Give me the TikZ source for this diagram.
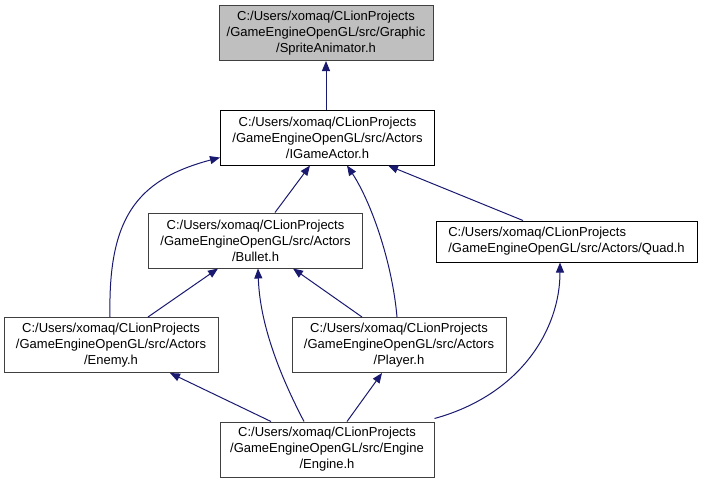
\documentclass[tikz,border=0pt]{standalone}
\usepackage{fontspec}
\setmainfont{Liberation Sans}
\usetikzlibrary{arrows.meta,calc}
\definecolor{edgeblue}{HTML}{191970}
\definecolor{boxgray}{HTML}{404040}
\definecolor{fillgray}{HTML}{BFBFBF}
\tikzset{
  filebox/.style={draw=boxgray, line width=1pt, fill=white, align=center, minimum width=214pt, minimum height=55pt, inner sep=0pt, font=\fontsize{13pt}{16pt}\selectfont},
  linkbox/.style={filebox, draw=black},
  rootbox/.style={filebox, fill=fillgray},
  dep/.style={draw=edgeblue, line width=1pt, -{Triangle[length=10pt,width=8pt]}}
}
\begin{document}
\begin{tikzpicture}[x=1pt,y=-1pt]
\useasboundingbox (0,0) rectangle (701,483);
\node[rootbox] (sa) at (326,33) {C:/Users/xomaq/CLionProjects\\/GameEngineOpenGL/src/Graphic\\/SpriteAnimator.h};
\node[linkbox] (ga) at (327.5,137.5) {C:/Users/xomaq/CLionProjects\\/GameEngineOpenGL/src/Actors\\/IGameActor.h};
\node[filebox] (bullet) at (255.5,240.5) {C:/Users/xomaq/CLionProjects\\/GameEngineOpenGL/src/Actors\\/Bullet.h};
\node[linkbox, minimum width=261pt, minimum height=41pt, align=left] (quad) at (566.5,241.5) {C:/Users/xomaq/CLionProjects\\/GameEngineOpenGL/src/Actors/Quad.h};
\node[filebox] (enemy) at (111,345) {C:/Users/xomaq/CLionProjects\\/GameEngineOpenGL/src/Actors\\/Enemy.h};
\node[filebox] (player) at (399,345) {C:/Users/xomaq/CLionProjects\\/GameEngineOpenGL/src/Actors\\/Player.h};
\node[filebox] (engine) at (327,449.5) {C:/Users/xomaq/CLionProjects\\/GameEngineOpenGL/src/Engine\\/Engine.h};

\draw[dep] (sa.south |- ga.north) -- (sa.south);
\draw[dep] ([xshift=19.5pt]bullet.north) -- ([xshift=-17.5pt]ga.south);
\draw[dep] ([xshift=-1pt]enemy.north) .. controls (108,220) and (135,180) .. ([yshift=8pt]ga.south west);
\draw[dep] ([xshift=-2pt]player.north) .. controls (392,260) and (370,200) .. ([xshift=19.5pt]ga.south);
\draw[dep] ([xshift=-43.5pt]quad.north) -- ([xshift=60.5pt]ga.south);
\draw[dep] ([xshift=37pt]enemy.north) -- ([xshift=-37.5pt]bullet.south);
\draw[dep] ([xshift=-37pt]player.north) -- ([xshift=37.5pt]bullet.south);
\draw[dep] ([xshift=-23pt]engine.north) .. controls (285,385) and (260,330) .. ([xshift=2.5pt]bullet.south);
\draw[dep] ([xshift=-56pt]engine.north) -- ([xshift=59pt]enemy.south);
\draw[dep] ([xshift=20pt]engine.north) -- ([xshift=-17pt]player.south);
\draw[dep] ([yshift=3pt]engine.north east) .. controls (520,395) and (560,330) .. ([xshift=-6.5pt]quad.south);
\end{tikzpicture}
\end{document}
